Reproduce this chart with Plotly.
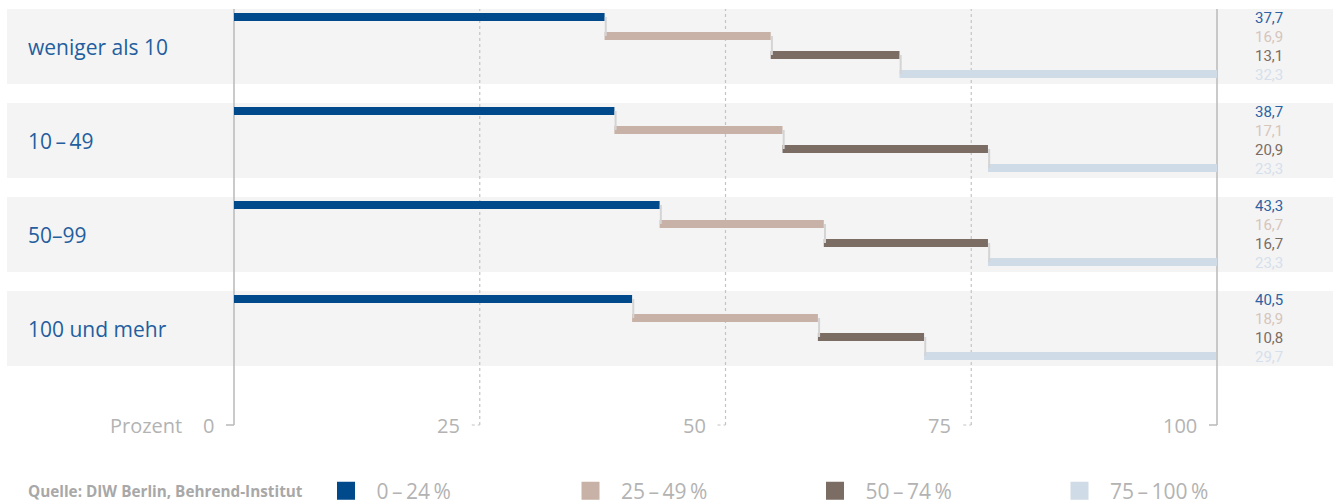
import plotly.graph_objects as go

# Betriebsgrößenklassen (Beschäftigte)
categories = ["weniger als 10", "10\u2009\u2013\u200949", "50\u201399", "100 und mehr"]

# Anteile je Klasse in Prozent
series_names = ["0\u2009\u2013\u200924\u2009%", "25\u2009\u2013\u200949\u2009%",
                "50\u2009\u2013\u200974\u2009%", "75\u2009\u2013\u2009100\u2009%"]
share_0_24 = [37.7, 38.7, 43.3, 40.5]
share_25_49 = [16.9, 17.1, 16.7, 18.9]
share_50_74 = [13.1, 20.9, 16.7, 10.8]
share_75_100 = [32.3, 23.3, 23.3, 29.7]
series_values = [share_0_24, share_25_49, share_50_74, share_75_100]

x_ticks = [0, 25, 50, 75, 100]
x_tick_labels = ["0", "25", "50", "75", "100"]

bar_colors = ["#004a8c", "#c8b1a6", "#7b6c64", "#cfdbe6"]
label_colors = ["#2d62a3", "#d6c5bc", "#7b6c64", "#d6e0ec"]
cat_color = "#235e9e"
grey_text = "#b3b3b3"

W, H = 1333, 504
px_per_unit_x = 9.83          # horizontal scale
x0_px = 234                   # pixel position of 0 %
group_px = 94.0               # vertical pitch of a size class
row_px = 19.0                 # vertical pitch of the four bars
bar_px = 8.0

n_groups = len(categories)
n_series = len(series_values)


def row_y(g, r):
    return g + (r - (n_series - 1) / 2) * row_px / group_px


fig = go.Figure()

# faint step connectors between consecutive bars
for g in range(n_groups):
    cum = 0.0
    for r in range(n_series - 1):
        cum += series_values[r][g]
        fig.add_trace(go.Scatter(
            x=[cum + 0.12, cum + 0.12], y=[row_y(g, r), row_y(g, r + 1)],
            mode="lines", line=dict(color="#d4d4d4", width=2),
            hoverinfo="skip", showlegend=False))

# stepped horizontal bars
for r in range(n_series):
    xs, bases, ys = [], [], []
    for g in range(n_groups):
        start = sum(series_values[k][g] for k in range(r))
        xs.append(series_values[r][g])
        bases.append(start)
        ys.append(row_y(g, r))
    fig.add_trace(go.Bar(
        x=xs, base=bases, y=ys, orientation="h",
        width=bar_px / group_px,
        marker=dict(color=bar_colors[r], line=dict(width=0)),
        showlegend=False, name=series_names[r]))

# legend entries
for r in range(n_series):
    fig.add_trace(go.Scatter(
        x=[None], y=[None], mode="markers", name="\u2002" + series_names[r],
        marker=dict(symbol="square", size=18, color=bar_colors[r],
                    line=dict(width=2, color=bar_colors[r])),
        showlegend=True))

shapes = []
# background bands
for g in range(n_groups):
    shapes.append(dict(type="rect", xref="paper", yref="y",
                       x0=7 / W, x1=1.0,
                       y0=g - 0.388, y1=g + 0.41,
                       fillcolor="#f4f4f4", line=dict(width=0), layer="below"))
# vertical reference lines with small hooks at the bottom
hook = 8 / px_per_unit_x
for t in x_ticks:
    solid = t in (x_ticks[0], x_ticks[-1])
    style = dict(color="#bdbdbd", width=1.6) if solid else dict(color="#c4c4c4", width=1.2, dash="dot")
    shapes.append(dict(type="line", xref="x", yref="paper", x0=t, x1=t, y0=0, y1=1,
                       line=style, layer="below"))
    shapes.append(dict(type="line", xref="x", yref="paper", x0=t - hook, x1=t, y0=0, y1=0,
                       line=style, layer="below"))

annotations = []
# size-class labels
for g, c in enumerate(categories):
    annotations.append(dict(xref="paper", yref="y", x=26 / W, y=g + 0.015, text=c,
                            xanchor="left", yanchor="middle", showarrow=False,
                            font=dict(family="Open Sans", size=21, color=cat_color)))
# value labels on the right
for g in range(n_groups):
    for r in range(n_series):
        v = series_values[r][g]
        annotations.append(dict(xref="x", yref="y", x=105.3, y=row_y(g, r) + 0.01,
                                text=f"{v:.1f}".replace(".", ","),
                                xanchor="center", yanchor="middle", showarrow=False,
                                font=dict(family="Roboto", size=15, color=label_colors[r])))
# axis tick labels
for t, lab in zip(x_ticks, x_tick_labels):
    annotations.append(dict(xref="x", yref="paper", x=t, y=0, xshift=-18, text=lab,
                            xanchor="right", yanchor="middle", showarrow=False,
                            font=dict(family="Open Sans", size=20, color=grey_text)))
annotations.append(dict(xref="x", yref="paper", x=0, y=0, xshift=-50, text="Prozent",
                        xanchor="right", yanchor="middle", showarrow=False,
                        font=dict(family="Open Sans", size=20, color=grey_text)))
# source
annotations.append(dict(xref="paper", yref="paper", x=26 / W, y=(425 - 491) / 416,
                        text="<b>Quelle: DIW Berlin, Behrend-Institut</b>",
                        xanchor="left", yanchor="middle", showarrow=False,
                        font=dict(family="Open Sans", size=15.3, color="#a8a8a8")))

fig.update_layout(
    width=W, height=H,
    margin=dict(l=0, r=0, t=9, b=79, autoexpand=False),
    paper_bgcolor="white", plot_bgcolor="white",
    barmode="overlay",
    xaxis=dict(range=[-x0_px / px_per_unit_x, (W - x0_px) / px_per_unit_x],
               showgrid=False, zeroline=False, showticklabels=False, fixedrange=True),
    yaxis=dict(range=[(425 - 45.5) / group_px, (9 - 45.5) / group_px],
               showgrid=False, zeroline=False, showticklabels=False, fixedrange=True),
    shapes=shapes,
    annotations=annotations,
    showlegend=True,
    legend=dict(orientation="h", x=326 / W, y=(425 - 491) / 416,
                xanchor="left", yanchor="middle",
                entrywidth=199.5, entrywidthmode="pixels",
                font=dict(family="Open Sans", size=21, color=grey_text),
                bgcolor="rgba(0,0,0,0)", itemclick=False),
)

fig.write_html("out.html")
